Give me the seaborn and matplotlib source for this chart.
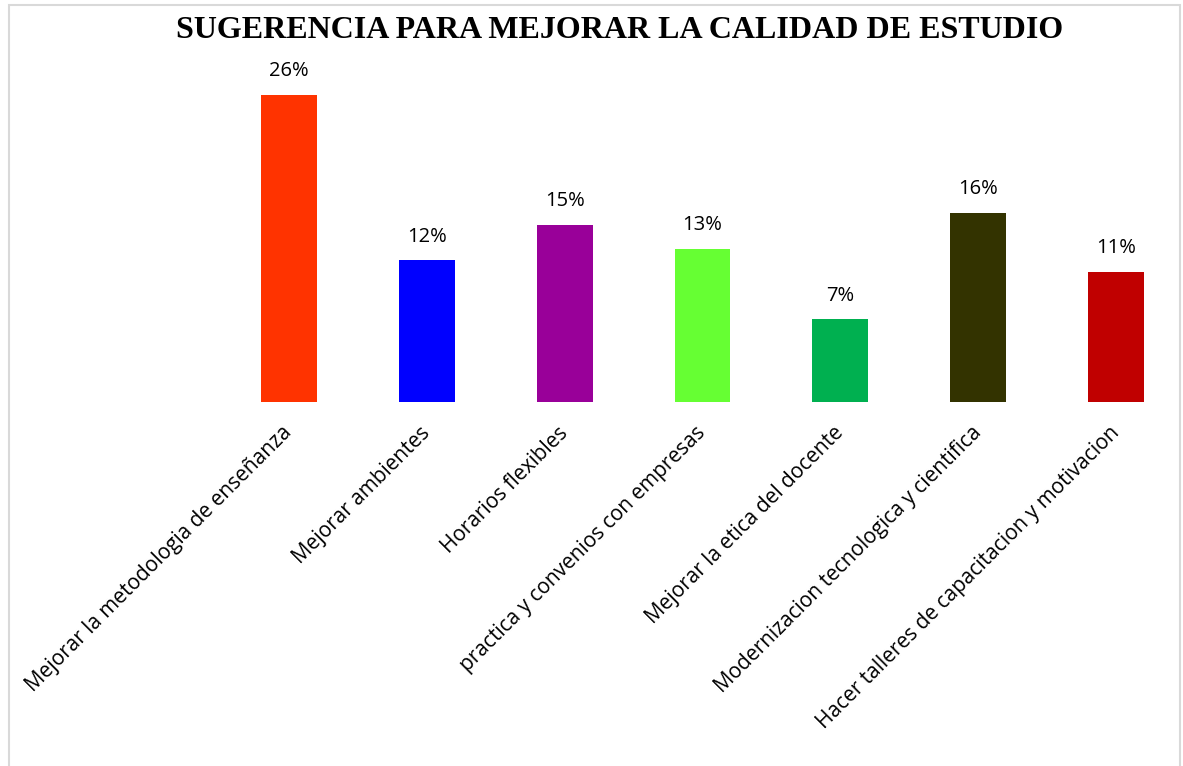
import matplotlib
matplotlib.use("Agg")
import matplotlib.pyplot as plt
import seaborn as sns
import pandas as pd
from matplotlib.patches import Rectangle

# data
categorias = [
    "Mejorar la metodologia de enseñanza",
    "Mejorar ambientes",
    "Horarios flexibles",
    "practica y convenios con empresas",
    "Mejorar la etica del docente",
    "Modernizacion tecnologica y cientifica",
    "Hacer talleres de capacitacion y motivacion",
]
porcentajes = [0.26, 0.12, 0.15, 0.13, 0.07, 0.16, 0.11]
colores = ["#FF3300", "#0000FF", "#990099", "#66FF33", "#00B050", "#333300", "#C00000"]

df = pd.DataFrame({"categoria": categorias, "valor": porcentajes})

sns.set_style("white")
plt.rcParams["font.family"] = ["Open Sans", "DejaVu Sans"]
plt.rcParams["text.color"] = "black"
plt.rcParams["xtick.color"] = "black"

W, H = 1183, 766
fig = plt.figure(figsize=(W / 100, H / 100), dpi=100)
ax = fig.add_axes([220 / W, 1 - 402 / H, 965 / W, (402 - 48) / H])

sns.barplot(data=df, x="categoria", y="valor", hue="categoria",
            palette=colores, saturation=1, legend=False, width=0.405,
            linewidth=0, ax=ax)

ax.set_ylim(0, 0.30)
ax.set_xlim(-0.5, 6.5)
for s in ax.spines.values():
    s.set_visible(False)
ax.set_yticks([])
ax.set_xlabel("")
ax.set_ylabel("")

for i, v in enumerate(porcentajes):
    ax.annotate(f"{v * 100:.0f}%", (i, v), xytext=(0, 10), textcoords="offset points",
                ha="center", va="bottom", fontsize=14.5, color="black")

ax.tick_params(axis="x", length=0, pad=20)
plt.setp(ax.get_xticklabels(), rotation=45, ha="right", va="center",
         rotation_mode="anchor", fontsize=15, color="black")

fig.text(620 / W, 1 - 30 / H, "SUGERENCIA PARA MEJORAR LA CALIDAD DE ESTUDIO",
         ha="center", va="center", fontsize=23, fontweight="bold", color="black",
         family=["Liberation Serif", "DejaVu Serif"])

fig.patches.append(Rectangle((9 / W, -0.02), (1180 - 9) / W, 1.02 - 5 / H,
                             transform=fig.transFigure, fill=False,
                             edgecolor="#D9D9D9", linewidth=1.5))

fig.savefig("out.png", dpi=100)
